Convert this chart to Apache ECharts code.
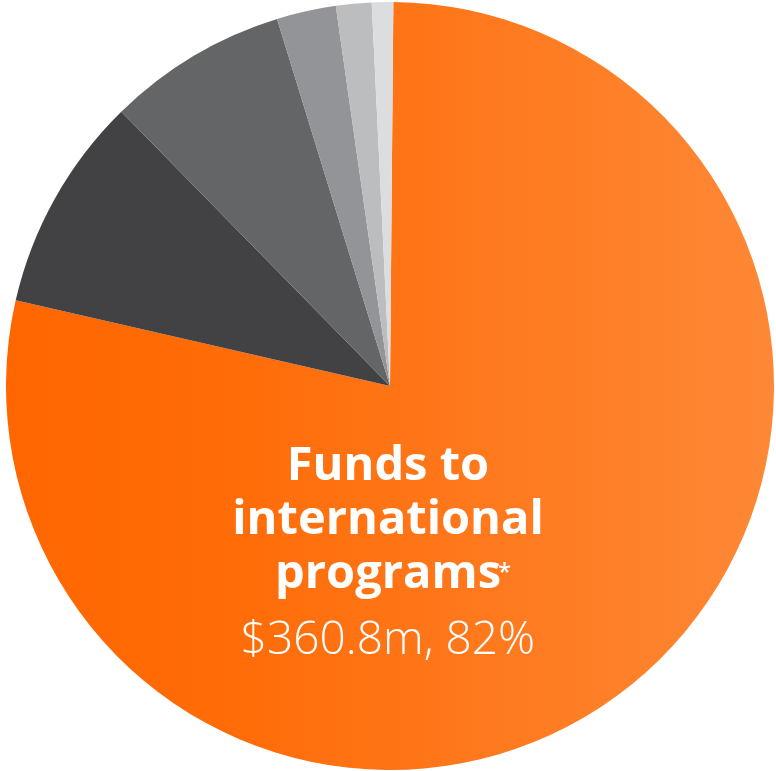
<!DOCTYPE html>
<html>
<head>
<meta charset="utf-8">
<script src="https://cdn.jsdelivr.net/npm/echarts@6/dist/echarts.min.js"></script>
<style>
  html, body { margin: 0; padding: 0; background: #fff; }
  #main { width: 776px; height: 771px; }
</style>
</head>
<body>
<div id="main"></div>
<script>
// slice shares (clockwise from 12 o'clock)
var categories = ['Funds to international programs', 'Other 1', 'Other 2', 'Other 3', 'Other 4', 'Other 5'];
var values = [78.6, 9.1, 7.6, 2.5, 1.5, 0.9];
var colors = [null, '#424244', '#646567', '#939497', '#bcbdbf', '#dcdddf'];
var titleLines = ['Funds to', 'international', 'programs'];
var valueText = '$360.8m, 82%';

var orangeFill = new echarts.graphic.LinearGradient(0, 0, 1, 0, [
    { offset: 0, color: '#ff6600' },
    { offset: 0.3, color: '#ff6c08' },
    { offset: 1, color: '#fe8836' }
]);

var chart = echarts.init(document.getElementById('main'));

var pieData = categories.map(function (name, i) {
    return {
        name: name,
        value: values[i],
        itemStyle: { color: i === 0 ? orangeFill : colors[i] }
    };
});

// label lines, each centred on its own
var texts = titleLines.map(function (line, i) {
    return {
        type: 'text', left: 'center', top: 443 + i * 54, z: 100,
        style: { text: line, fill: '#fff', font: 'bold 47px "Open Sans"' }
    };
});
texts.push({
    type: 'text', left: 498, top: 561, z: 100,
    style: { text: '*', fill: '#fff', font: '600 24px "Open Sans"' }
});
texts.push({
    type: 'text', left: 'center', top: 618, z: 100,
    style: { text: valueText, fill: '#fff', font: '300 46px "Open Sans"' }
});

var option = {
    animation: false,
    series: [{
        type: 'pie',
        center: [390, 386],
        radius: [0, 384],
        startAngle: 89.5,
        clockwise: true,
        label: { show: false },
        labelLine: { show: false },
        emphasis: { disabled: true },
        itemStyle: { borderWidth: 0 },
        data: pieData
    }],
    graphic: texts
};

chart.setOption(option);
</script>
</body>
</html>
